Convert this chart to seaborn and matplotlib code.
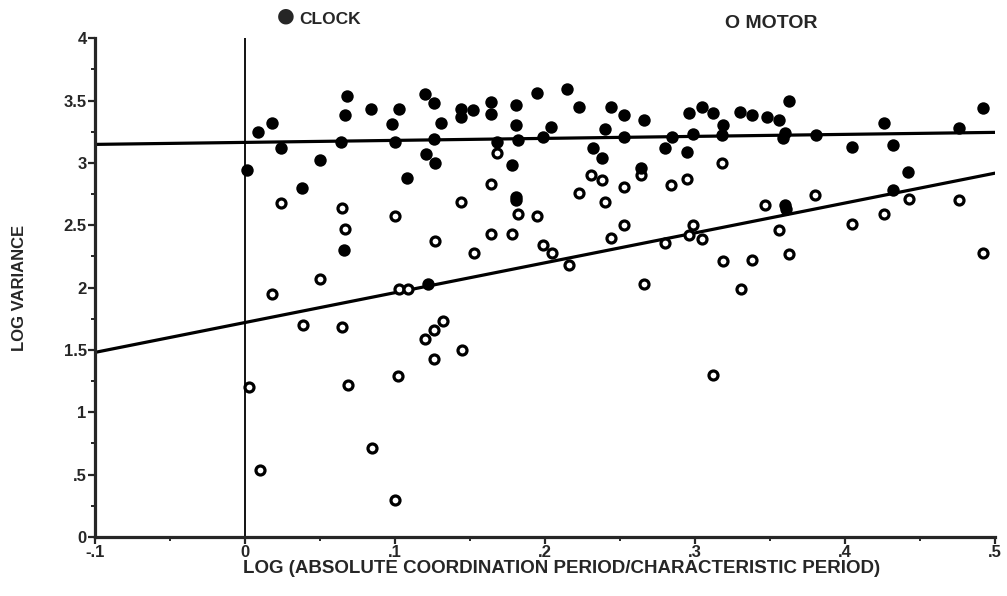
import numpy as np
import pandas as pd
import matplotlib
matplotlib.use("Agg")
import matplotlib.pyplot as plt
from matplotlib.ticker import MultipleLocator, FixedLocator
import seaborn as sns

# CLOCK (filled circles)
clock_x = [0.0015, 0.009, 0.018, 0.024, 0.038, 0.050, 0.068, 0.067, 0.064, 0.066,
           0.084, 0.103, 0.098, 0.100, 0.108, 0.120, 0.126, 0.131, 0.126, 0.121,
           0.127, 0.122, 0.144, 0.144, 0.152, 0.164, 0.164, 0.181, 0.195, 0.215,
           0.223, 0.244, 0.253, 0.266, 0.296, 0.305, 0.312, 0.330, 0.338, 0.348,
           0.356, 0.363, 0.181, 0.182, 0.168, 0.199, 0.204, 0.240, 0.253, 0.285,
           0.299, 0.319, 0.318, 0.232, 0.238, 0.280, 0.295, 0.178, 0.264, 0.181,
           0.181, 0.360, 0.359, 0.381, 0.405, 0.426, 0.432, 0.442, 0.432, 0.476,
           0.492, 0.360, 0.361]
clock_y = [2.94, 3.25, 3.32, 3.12, 2.80, 3.02, 3.54, 3.38, 3.17, 2.30,
           3.43, 3.43, 3.31, 3.17, 2.88, 3.55, 3.48, 3.32, 3.19, 3.07,
           3.00, 2.03, 3.43, 3.37, 3.42, 3.49, 3.39, 3.46, 3.56, 3.59,
           3.45, 3.45, 3.38, 3.34, 3.40, 3.45, 3.40, 3.41, 3.38, 3.37,
           3.34, 3.50, 3.30, 3.18, 3.17, 3.21, 3.29, 3.27, 3.21, 3.21,
           3.23, 3.30, 3.22, 3.12, 3.04, 3.12, 3.09, 2.98, 2.96, 2.73,
           2.70, 3.24, 3.20, 3.22, 3.13, 3.32, 3.14, 2.93, 2.78, 3.28,
           3.44, 2.66, 2.63]

# MOTOR (open circles)
motor_x = [0.024, 0.065, 0.067, 0.100, 0.144, 0.127, 0.153, 0.050, 0.018, 0.039,
           0.065, 0.120, 0.126, 0.132, 0.145, 0.126, 0.102, 0.069, 0.003, 0.085,
           0.010, 0.100, 0.103, 0.109, 0.168, 0.164, 0.223, 0.231, 0.238, 0.240,
           0.253, 0.284, 0.295, 0.318, 0.264, 0.182, 0.195, 0.164, 0.178, 0.199,
           0.205, 0.216, 0.244, 0.253, 0.280, 0.299, 0.296, 0.305, 0.266, 0.319,
           0.380, 0.347, 0.356, 0.338, 0.363, 0.331, 0.405, 0.426, 0.443, 0.476,
           0.492, 0.312]
motor_y = [2.68, 2.64, 2.47, 2.57, 2.69, 2.37, 2.28, 2.07, 1.95, 1.70,
           1.68, 1.59, 1.66, 1.73, 1.50, 1.43, 1.29, 1.22, 1.20, 0.71,
           0.54, 0.30, 1.99, 1.99, 3.08, 2.83, 2.76, 2.90, 2.86, 2.69,
           2.81, 2.82, 2.87, 3.00, 2.90, 2.59, 2.57, 2.43, 2.43, 2.34,
           2.28, 2.18, 2.40, 2.50, 2.36, 2.50, 2.42, 2.39, 2.03, 2.21,
           2.74, 2.66, 2.46, 2.22, 2.27, 1.99, 2.51, 2.59, 2.71, 2.70,
           2.28, 1.30]

x_ticks = [-0.1, 0.0, 0.1, 0.2, 0.3, 0.4, 0.5]
x_tick_labels = ["-.1", "0", ".1", ".2", ".3", ".4", ".5"]
y_ticks = [0, 0.5, 1, 1.5, 2, 2.5, 3, 3.5, 4]
y_tick_labels = ["0", ".5", "1", "1.5", "2", "2.5", "3", "3.5", "4"]

clock = pd.DataFrame({"x": clock_x, "y": clock_y})
motor = pd.DataFrame({"x": motor_x, "y": motor_y})

sns.set_style("ticks")
plt.rcParams["font.family"] = ["Liberation Sans", "DejaVu Sans"]
plt.rcParams["font.weight"] = "bold"
plt.rcParams["axes.labelweight"] = "bold"

fig = plt.figure(figsize=(10.07, 5.96), dpi=100)
ax = fig.add_axes([0.0943, 0.099, 0.8937, 0.837])
ax.set_xlim(-0.1, 0.5)
ax.set_ylim(0, 4)

# vertical reference line at 0
ax.axvline(0, color="black", lw=1.3, zorder=1)

sns.scatterplot(data=motor, x="x", y="y", ax=ax, marker="o", s=42,
                facecolor="white", edgecolor="black", linewidth=2.3, zorder=3)
sns.scatterplot(data=clock, x="x", y="y", ax=ax, marker="o", s=80,
                color="black", edgecolor="black", linewidth=0, zorder=3)

# least-squares lines across the full x range
sns.regplot(data=clock, x="x", y="y", ax=ax, scatter=False, ci=None,
            truncate=False, line_kws={"color": "black", "lw": 2.3, "zorder": 2})
sns.regplot(data=motor, x="x", y="y", ax=ax, scatter=False, ci=None,
            truncate=False, line_kws={"color": "black", "lw": 2.3, "zorder": 2})

ax.set_xlim(-0.1, 0.5)
ax.set_ylim(0, 4)

ax.xaxis.set_major_locator(FixedLocator(x_ticks))
ax.set_xticklabels(x_tick_labels)
ax.xaxis.set_minor_locator(MultipleLocator(0.05))
ax.yaxis.set_major_locator(FixedLocator(y_ticks))
ax.set_yticklabels(y_tick_labels)
ax.yaxis.set_minor_locator(MultipleLocator(0.25))

ax.tick_params(axis="both", which="major", direction="out", length=5, width=1.6,
               labelsize=12, pad=1)
ax.tick_params(axis="both", which="minor", direction="out", length=3, width=1.4)

for side in ["top", "right"]:
    ax.spines[side].set_visible(False)
for side in ["left", "bottom"]:
    ax.spines[side].set_linewidth(2.3)

ax.set_xlabel("LOG (ABSOLUTE COORDINATION PERIOD/CHARACTERISTIC PERIOD)",
              fontsize=13.5, labelpad=0)
ax.xaxis.label.set_x(0.519)
ax.set_ylabel("LOG VARIANCE", fontsize=12, labelpad=26)

fig.text(0.2835, 0.972, "●", fontsize=26, ha="center", va="center")
fig.text(0.297, 0.967, "CLOCK", fontsize=12.5, ha="left", va="center")
fig.text(0.720, 0.961, "O MOTOR", fontsize=14, ha="left", va="center")

fig.savefig("out.png", dpi=100)
